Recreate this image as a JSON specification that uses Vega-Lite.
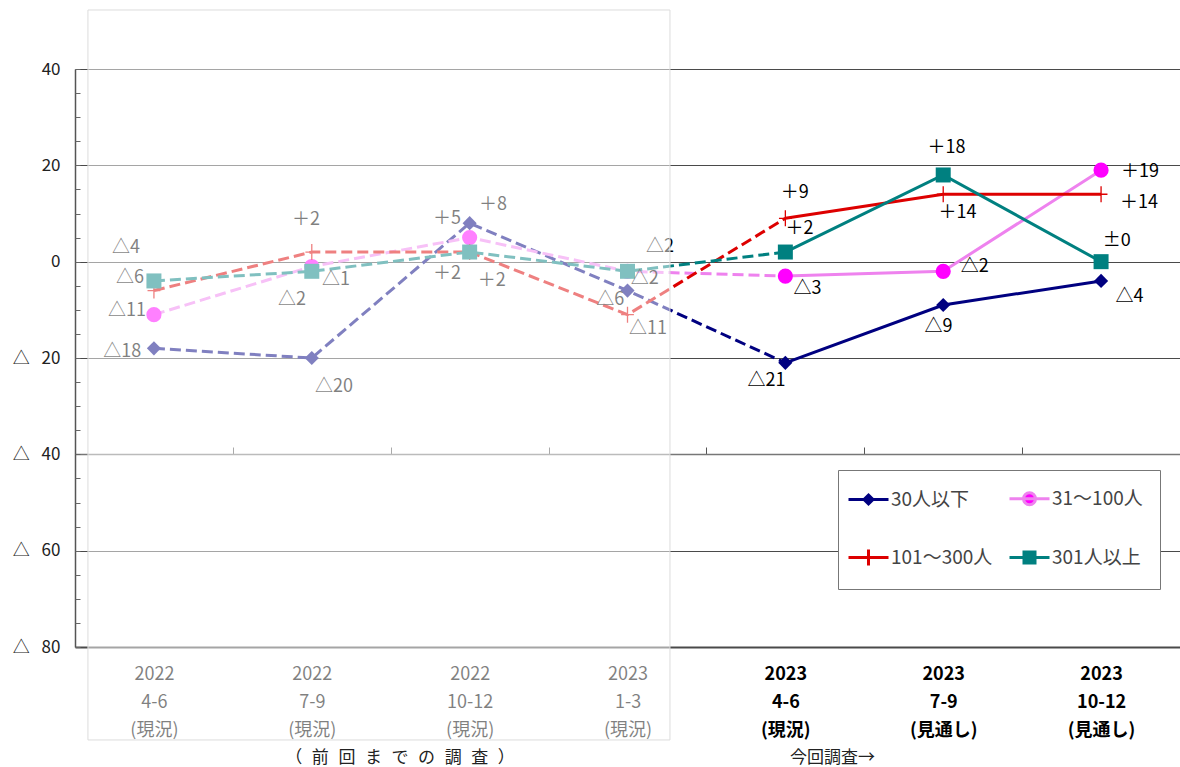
{
  "$schema": "https://vega.github.io/schema/vega-lite/v6.json",
  "width": 1105,
  "height": 578,
  "autosize": {"type": "none"},
  "padding": {"left": 75, "top": 69, "right": 0, "bottom": 120},
  "background": "white",
  "config": {"view": {"stroke": null}, "font": "Noto Sans CJK JP"},
  "datasets": {
    "bsi": [
      {"idx": 1, "series": "30人以下", "v": -18},
      {"idx": 2, "series": "30人以下", "v": -20},
      {"idx": 3, "series": "30人以下", "v": 8},
      {"idx": 4, "series": "30人以下", "v": -6},
      {"idx": 5, "series": "30人以下", "v": -21},
      {"idx": 6, "series": "30人以下", "v": -9},
      {"idx": 7, "series": "30人以下", "v": -4},
      {"idx": 1, "series": "31〜100人", "v": -11},
      {"idx": 2, "series": "31〜100人", "v": -1},
      {"idx": 3, "series": "31〜100人", "v": 5},
      {"idx": 4, "series": "31〜100人", "v": -2},
      {"idx": 5, "series": "31〜100人", "v": -3},
      {"idx": 6, "series": "31〜100人", "v": -2},
      {"idx": 7, "series": "31〜100人", "v": 19},
      {"idx": 1, "series": "101〜300人", "v": -6},
      {"idx": 2, "series": "101〜300人", "v": 2},
      {"idx": 3, "series": "101〜300人", "v": 2},
      {"idx": 4, "series": "101〜300人", "v": -11},
      {"idx": 5, "series": "101〜300人", "v": 9},
      {"idx": 6, "series": "101〜300人", "v": 14},
      {"idx": 7, "series": "101〜300人", "v": 14},
      {"idx": 1, "series": "301人以上", "v": -4},
      {"idx": 2, "series": "301人以上", "v": -2},
      {"idx": 3, "series": "301人以上", "v": 2},
      {"idx": 4, "series": "301人以上", "v": -2},
      {"idx": 5, "series": "301人以上", "v": 2},
      {"idx": 6, "series": "301人以上", "v": 18},
      {"idx": 7, "series": "301人以上", "v": 0}
    ],
    "labels": [
      {"lx": 0.823, "ly": 2.8, "t": "△4"},
      {"lx": 0.848, "ly": -3.4, "t": "△6"},
      {"lx": 0.83, "ly": -10.2, "t": "△11"},
      {"lx": 0.8, "ly": -18.75, "t": "△18"},
      {"lx": 1.963, "ly": 8.65, "t": "＋2"},
      {"lx": 1.875, "ly": -7.96, "t": "△2"},
      {"lx": 2.153, "ly": -3.8, "t": "△1"},
      {"lx": 2.14, "ly": -26.0, "t": "△20"},
      {"lx": 2.857, "ly": 8.86, "t": "＋5"},
      {"lx": 3.148, "ly": 11.8, "t": "＋8"},
      {"lx": 2.857, "ly": -2.5, "t": "＋2"},
      {"lx": 3.14, "ly": -4.0, "t": "＋2"},
      {"lx": 4.206, "ly": 3.05, "t": "△2"},
      {"lx": 4.11, "ly": -3.6, "t": "△2"},
      {"lx": 3.89, "ly": -8.0, "t": "△6"},
      {"lx": 4.13, "ly": -14.0, "t": "△11"},
      {"lx": 5.06, "ly": 14.3, "t": "＋9"},
      {"lx": 5.09, "ly": 6.8, "t": "＋2"},
      {"lx": 5.14, "ly": -5.7, "t": "△3"},
      {"lx": 4.88, "ly": -24.8, "t": "△21"},
      {"lx": 6.02, "ly": 23.6, "t": "＋18"},
      {"lx": 6.09, "ly": 10.1, "t": "＋14"},
      {"lx": 6.2, "ly": -1.1, "t": "△2"},
      {"lx": 5.97, "ly": -13.6, "t": "△9"},
      {"lx": 7.246, "ly": 18.6, "t": "＋19"},
      {"lx": 7.24, "ly": 12.2, "t": "＋14"},
      {"lx": 7.1, "ly": 4.3, "t": "±0"},
      {"lx": 7.18, "ly": -7.3, "t": "△4"}
    ],
    "region": [{"x0": 0.582, "x1": 4.269, "y0": 52.25, "y1": -99.3}],
    "notes": [
      {"nx": 2.559, "ny": -103.0, "t": "（\u2002\u200a前\u2002\u200a回\u2002\u200aま\u2002\u200aで\u2002\u200aの\u2002\u200a調\u2002\u200a査\u2002\u200a）"},
      {"nx": 5.299, "ny": -103.0, "t": "今回調査→"}
    ]
  },
  "layer": [
    {
      "data": {"name": "bsi"},
      "transform": [{"filter": "datum.idx <= 5"}],
      "mark": {"type": "line", "strokeWidth": 3, "strokeDash": [11, 5]},
      "encoding": {
        "x": {
          "field": "idx", "type": "quantitative",
          "scale": {"domain": [0.5, 7.5], "nice": false, "zero": false},
          "axis": {
            "orient": "bottom", "values": [1, 2, 3, 4, 5, 6, 7], "domain": false, "ticks": false, "grid": false, "title": null,
            "labelExpr": "[['2022','4-6','(現況)'],['2022','7-9','(現況)'],['2022','10-12','(現況)'],['2023','1-3','(現況)'],['2023','4-6','(現況)'],['2023','7-9','(見通し)'],['2023','10-12','(見通し)']][datum.value-1]",
            "labelFontSize": 18, "labelLineHeight": 28, "labelColor": "#000", "labelPadding": 18,
            "labelFont": "Noto Sans CJK JP", "labelBaseline": "top", "labelFlush": false, "labelOverlap": false, "labelBound": false,
            "labelFontWeight": {"condition": {"test": "datum.value >= 5", "value": "bold"}, "value": "normal"}
          }
        },
        "y": {
          "field": "v", "type": "quantitative",
          "scale": {"domain": [-80, 40], "nice": false, "zero": false},
          "axis": {
            "orient": "left", "values": [-80, -60, -40, -20, 0, 20, 40], "title": null,
            "domain": true, "domainColor": "#555", "domainWidth": 1.5, "ticks": false,
            "grid": true, "gridColor": "#4a4a4a",
            "gridWidth": {"condition": {"test": "datum.value == -80", "value": 2}, "value": 1.1},
            "labelExpr": "datum.value < 0 ? '△\u2002\u2009' + (-datum.value) : '' + datum.value",
            "labelFontSize": 17, "labelFont": "Noto Sans CJK JP", "labelColor": "#222", "labelPadding": 15
          }
        },
        "color": {
          "field": "series", "type": "nominal",
          "scale": {"domain": ["30人以下", "31〜100人", "101〜300人", "301人以上"], "range": ["#000080", "#EE82EE", "#DD0000", "#008080"]},
          "legend": {
            "orient": "none", "legendX": 763, "legendY": 401, "title": null, "columns": 2,
            "values": ["30人以下", "101〜300人", "31〜100人", "301人以上"],
            "padding": 17, "columnPadding": 10, "rowPadding": 32, "symbolOffset": 2, "labelOffset": 11,
            "symbolSize": 400, "symbolStrokeWidth": 3, "labelFontSize": 19, "labelFont": "Noto Sans CJK JP", "labelColor": "#444",
            "fillColor": "white", "strokeColor": "#777", "cornerRadius": 0,
            "encode": {
              "symbols": {
                "update": {
                  "shape": {"signal": "datum.value == '30人以下' ? 'M-2,0H2M0,-0.45L0.45,0L0,0.45L-0.45,0Z' : datum.value == '31〜100人' ? 'M-2,0H2M0.6,0A0.6,0.6,0,1,1,-0.6,0A0.6,0.6,0,1,1,0.6,0Z' : datum.value == '101〜300人' ? 'M-2,0H2M0,-0.8V0.8' : 'M-2,0H2M-0.55,-0.55H0.55V0.55H-0.55Z'"},
                  "fill": {"signal": "datum.value == '31〜100人' ? '#FF00FF' : datum.value == '101〜300人' ? 'transparent' : datum.value == '30人以下' ? '#000080' : '#008080'"},
                  "strokeWidth": {"value": 3}
                }
              }
            }
          }
        }
      }
    },
    {
      "data": {"name": "bsi"},
      "transform": [{"filter": "datum.idx >= 5"}],
      "mark": {"type": "line", "strokeWidth": 3},
      "encoding": {
        "x": {
          "field": "idx", "type": "quantitative",
          "axis": {
            "orient": "top", "offset": -385, "values": [1.5, 2.5, 3.5, 4.5, 5.5, 6.5], "labels": false, "grid": false,
            "domain": true, "domainColor": "#777", "domainWidth": 1.5, "ticks": true, "tickSize": 7, "tickColor": "#555", "tickWidth": 1, "title": null
          }
        },
        "y": {
          "field": "v", "type": "quantitative",
          "axis": {
            "orient": "right", "offset": -1105,
            "values": [-80, -75, -70, -65, -60, -55, -50, -45, -40, -35, -30, -25, -20, -15, -10, -5, 0, 5, 10, 15, 20, 25, 30, 35, 40],
            "labels": false, "grid": false, "domain": false, "ticks": true, "tickSize": 5, "tickColor": "#666", "title": null
          }
        },
        "color": {
          "field": "series", "type": "nominal",
          "legend": {
            "orient": "none", "legendX": 763, "legendY": 401, "title": null, "columns": 2,
            "values": ["30人以下", "101〜300人", "31〜100人", "301人以上"],
            "padding": 17, "columnPadding": 10, "rowPadding": 32, "symbolOffset": 2, "labelOffset": 11,
            "symbolSize": 400, "symbolStrokeWidth": 3, "labelFontSize": 19, "labelFont": "Noto Sans CJK JP", "labelColor": "#444",
            "fillColor": "white", "strokeColor": "#777", "cornerRadius": 0,
            "encode": {
              "symbols": {
                "update": {
                  "shape": {"signal": "datum.value == '30人以下' ? 'M-2,0H2M0,-0.45L0.45,0L0,0.45L-0.45,0Z' : datum.value == '31〜100人' ? 'M-2,0H2M0.6,0A0.6,0.6,0,1,1,-0.6,0A0.6,0.6,0,1,1,0.6,0Z' : datum.value == '101〜300人' ? 'M-2,0H2M0,-0.8V0.8' : 'M-2,0H2M-0.55,-0.55H0.55V0.55H-0.55Z'"},
                  "fill": {"signal": "datum.value == '31〜100人' ? '#FF00FF' : datum.value == '101〜300人' ? 'transparent' : datum.value == '30人以下' ? '#000080' : '#008080'"},
                  "strokeWidth": {"value": 3}
                }
              }
            }
          }
        }
      }
    },
    {
      "data": {"name": "bsi"},
      "transform": [{"filter": "datum.series == '30人以下'"}],
      "mark": {"type": "point", "shape": "diamond", "filled": true, "size": 200, "color": "#000080", "opacity": 1},
      "encoding": {
        "x": {"field": "idx", "type": "quantitative", "axis": null},
        "y": {"field": "v", "type": "quantitative", "axis": null}
      }
    },
    {
      "data": {"name": "bsi"},
      "transform": [{"filter": "datum.series == '31〜100人'"}],
      "mark": {"type": "point", "shape": "circle", "filled": true, "size": 230, "color": "#FF00FF", "opacity": 1},
      "encoding": {
        "x": {"field": "idx", "type": "quantitative", "axis": null},
        "y": {"field": "v", "type": "quantitative", "axis": null}
      }
    },
    {
      "data": {"name": "bsi"},
      "transform": [{"filter": "datum.series == '101〜300人'"}],
      "mark": {"type": "point", "shape": "M-0.8,0H0.8M0,-1V1", "filled": false, "size": 256, "stroke": "#DD0000", "strokeWidth": 1.3, "opacity": 1},
      "encoding": {
        "x": {"field": "idx", "type": "quantitative", "axis": null},
        "y": {"field": "v", "type": "quantitative", "axis": null}
      }
    },
    {
      "data": {"name": "bsi"},
      "transform": [{"filter": "datum.series == '301人以上'"}],
      "mark": {"type": "point", "shape": "square", "filled": true, "size": 225, "color": "#008080", "opacity": 1},
      "encoding": {
        "x": {"field": "idx", "type": "quantitative", "axis": null},
        "y": {"field": "v", "type": "quantitative", "axis": null}
      }
    },
    {
      "data": {"name": "labels"},
      "mark": {"type": "text", "fontSize": 18, "font": "Noto Sans CJK JP", "color": "#000", "align": "center", "baseline": "middle"},
      "encoding": {
        "x": {"field": "lx", "type": "quantitative", "axis": null},
        "y": {"field": "ly", "type": "quantitative", "axis": null},
        "text": {"field": "t"}
      }
    },
    {
      "data": {"name": "region"},
      "mark": {"type": "rect", "fill": "white", "fillOpacity": 0.5, "stroke": "#dcdcdc", "strokeWidth": 1},
      "encoding": {
        "x": {"field": "x0", "type": "quantitative", "axis": null},
        "x2": {"field": "x1"},
        "y": {"field": "y0", "type": "quantitative", "axis": null},
        "y2": {"field": "y1"}
      }
    },
    {
      "data": {"name": "notes"},
      "mark": {"type": "text", "fontSize": 17, "font": "Noto Sans CJK JP", "color": "#222", "align": "center", "baseline": "middle"},
      "encoding": {
        "x": {"field": "nx", "type": "quantitative", "axis": null},
        "y": {"field": "ny", "type": "quantitative", "axis": null},
        "text": {"field": "t"}
      }
    }
  ],
  "resolve": {"axis": {"x": "independent", "y": "independent"}}
}
